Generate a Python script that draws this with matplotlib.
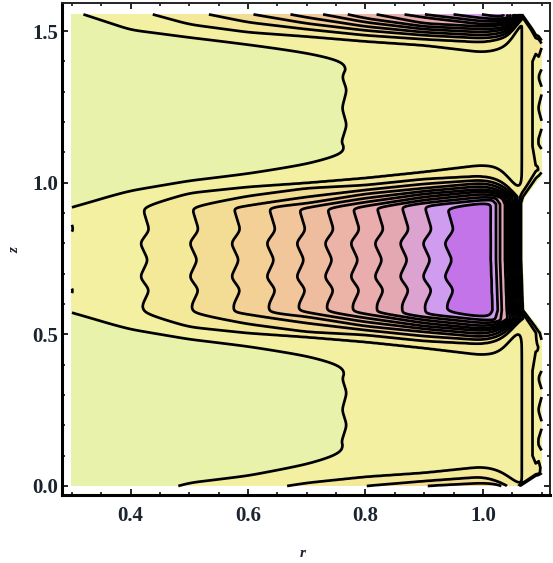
import numpy as np
import matplotlib
matplotlib.use("Agg")
import matplotlib.pyplot as plt
from matplotlib.ticker import MultipleLocator

# contour levels and the band colours between them
levels = [0.5, 1, 2, 3, 4, 5, 6, 7, 8, 9, 10, 11, 12, 50]
line_levels = [1, 2, 3, 4, 5, 6, 7, 8, 9, 10, 11, 12]
band_colors = ["#e9f2ab", "#f3f0a1", "#f4e899", "#f3dd95", "#f2d096", "#f0c69a", "#eebda0",
               "#ebb4a6", "#e8adac", "#e3a8b2", "#dca2d0", "#d09cf0", "#c274e8"]

# value along the middle of the hot band, z = 0.745
band_r = [0.25, 0.3040, 0.424, 0.508, 0.579, 0.639, 0.690, 0.738, 0.782, 0.823, 0.866, 0.905, 0.942, 1.1]
band_val = [0.65, 1, 2, 3, 4, 5, 6, 7, 8, 9, 10, 11, 12, 13.5]

# value along the quiet lobes, z = 0.25 and z = 1.25
lobe_r = [0.3, 0.773, 1.0, 1.04, 1.0666, 1.09, 1.1]
lobe_val = [0.72, 1, 1.45, 1.7, 2, 2.8, 3.1]

# columns where the contour tables below were read
col_r = [0.3, 0.4, 0.5, 0.6, 0.7, 0.8, 0.9, 1.0, 1.03, 1.05, 1.07]

# half height of each contour around the band centre, levels 1 to 13
band_center = 0.745
band_hw = [
    [.178, .224, .254, .274, .298, .330, .356, .363, .356, .330, .297],
    [.165, .168, .221, .241, .254, .270, .290, .313, .303, .254, .190],
    [.152, .155, .175, .211, .237, .247, .267, .277, .264, .230, .180],
    [.132, .145, .160, .180, .208, .231, .251, .264, .251, .220, .175],
    [.125, .138, .152, .167, .187, .218, .237, .254, .241, .210, .170],
    [.119, .132, .145, .155, .173, .204, .227, .244, .231, .204, .165],
    [.112, .125, .138, .145, .160, .191, .218, .234, .224, .198, .158],
    [.106, .119, .132, .138, .150, .178, .208, .227, .218, .191, .152],
    [.099, .112, .125, .132, .140, .167, .198, .218, .211, .185, .145],
    [.092, .106, .119, .125, .132, .160, .188, .208, .204, .178, .138],
    [.086, .099, .112, .119, .125, .152, .178, .198, .198, .171, .132],
    [.079, .092, .106, .112, .119, .145, .167, .188, .188, .165, .125],
    [.066, .079, .092, .099, .106, .132, .152, .171, .175, .152, .112],
]

# distance of each contour below the top edge, levels 1 to 13
z_top = 1.555
top_d = [
    [-.016, .046, .069, .089, .109, .132, .145, .152, .132, .099, .016],
    [-.066, -.020, .033, .059, .073, .089, .102, .125, .115, .089, .000],
    [-.082, -.066, -.013, .026, .049, .069, .082, .092, .082, .066, -.007],
    [-.099, -.082, -.040, -.003, .030, .053, .069, .079, .073, .056, -.007],
    [-.115, -.099, -.066, -.026, .010, .040, .059, .069, .063, .049, -.010],
    [-.132, -.115, -.082, -.049, -.010, .026, .049, .059, .053, .043, -.010],
    [-.148, -.132, -.099, -.066, -.030, .013, .040, .049, .046, .036, -.013],
    [-.165, -.148, -.115, -.082, -.040, -.007, .030, .040, .036, .030, -.013],
    [-.181, -.165, -.132, -.099, -.056, -.020, .010, .033, .030, .023, -.016],
    [-.198, -.181, -.148, -.115, -.073, -.030, .000, .023, .023, .016, -.016],
    [-.214, -.198, -.165, -.132, -.089, -.040, -.013, .013, .016, .010, -.020],
    [-.231, -.214, -.181, -.148, -.106, -.049, -.023, .000, .010, .003, -.020],
    [-.247, -.231, -.198, -.165, -.122, -.059, -.040, -.010, -.003, -.007, -.023],
]

# distance of each contour above the bottom edge, levels 1 to 5
bot_d = [
    [-.099, -.049, .003, .023, .053, .092, .106, .109, .092, .066, .016],
    [-.165, -.115, -.059, -.020, .010, .030, .043, .063, .049, .020, -.016],
    [-.231, -.181, -.115, -.066, -.026, .000, .016, .030, .013, -.010, -.033],
    [-.297, -.247, -.181, -.132, -.082, -.040, .000, .010, .005, -.016, -.046],
    [-.330, -.297, -.231, -.181, -.132, -.082, -.033, -.010, -.010, -.030, -.059],
]

# sideways wiggle of the contours with z
ripple_z = [0.0, 0.092, 0.142, 0.201, 0.251, 0.307, 0.356, 0.409, 0.50, 0.597, 0.646, 0.689, 0.745,
            0.801, 0.844, 0.920, 1.0, 1.091, 1.131, 1.190, 1.246, 1.306, 1.349, 1.405, 1.555]
ripple_dr = [0.0, .0075, -.0075, .0020, -.0060, .0020, -.0060, .0075, 0.0, -.004, .0080, -.0080, .0056,
             -.0080, .0080, -.004, 0.0, .0075, -.0075, .0020, -.0060, .0020, -.0060, .0075, 0.0]

# right hand wall: where the value drops out of range, and how wide the drop is
wall_z = [0.0, .043, .06, .458, .505, .58, .745, .933, .953, 1.042, 1.454, 1.504, 1.555]
wall_r = [1.063, 1.097, 1.1, 1.1, 1.097, 1.068, 1.0650, 1.0650, 1.068, 1.1, 1.1, 1.085, 1.0666]
spread_z = [0.0, .043, .10, .38, .46, .58, .93, 1.04, 1.12, 1.40, 1.454, 1.555]
spread_val = [.6, 1, 4.5, 4.5, 2.5, 1, 1, 2.5, 4.5, 4.5, 1, .6]
wall_off = [-.004, 0, .0034, .0068, .0102, .0136, .017, .0204, .0238, .0272, .0358, .0426, .0511, .1022, .5]
wall_val = [0.2, 1, 2, 3, 4, 5, 6, 7, 8, 9, 10, 11, 12, 13, 40]

xticks_major = 0.2
xticks_minor = 0.05
yticks_major = 0.5
yticks_minor = 0.1


def softmax(a, b, k=5.0):
    return np.logaddexp(k * a, k * b) / k


def softmin(a, b, k=5.0):
    return -softmax(-a, -b, k)


def smooth(y, n):
    w = np.hanning(n)
    w = w / w.sum()
    pad = np.pad(y, n // 2, mode="edge")
    return np.convolve(pad, w, mode="valid")


def edge_field(table, dist, r_grid, top_value):
    # value at a distance from an edge, going through the contour table column by column
    table = np.array(table)
    n = len(table)
    rows = np.array([smooth(np.interp(r_grid, col_r, table[i]), 61) for i in range(n)])
    out = np.zeros((len(dist), len(r_grid)))
    for j in range(len(r_grid)):
        xs = np.concatenate(([-1.0], rows[::-1, j], [rows[0, j] + 0.06]))
        ys = np.concatenate(([top_value], np.arange(n, 0, -1), [0.0]))
        out[:, j] = np.interp(dist, xs, ys)
    return out


r = np.linspace(0.3, 1.1, 801)
z = np.linspace(0.0, z_top, 701)
R, Z = np.meshgrid(r, z)

ripple = smooth(np.interp(z, ripple_z, ripple_dr), 21)[:, None]

band = np.interp(R - ripple, band_r, band_val)
# the lobes only wiggle near r = 0.77, the lines further right run straight
lobe = np.interp(R - ripple * (1 - np.clip((R - 0.85) / 0.1, 0, 1)), lobe_r, lobe_val)
E = edge_field(band_hw, np.abs(z - band_center), r, 20.0)
T = edge_field(top_d, z_top - z, r, 20.0)
B = edge_field(bot_d, z, r, 8.0)

field = softmin(band, E, 3.5)
field = softmax(field, lobe)
field = softmax(field, T)
field = softmax(field, B)

# the wiggle only reaches the wall line right at the edge of the domain
fade = np.clip((R - 1.09) / 0.005, 0, 1)
rw = np.interp(z, wall_z, wall_r)[:, None]
spread = np.interp(z, spread_z, spread_val)[:, None]
wall = np.interp((rw - R + ripple * fade) / spread, wall_off, wall_val)
field = softmin(field, wall)

plt.rcParams["font.family"] = ["Liberation Serif", "DejaVu Serif"]
fig = plt.figure(figsize=(5.53, 5.63), dpi=100)
ax = fig.add_axes([62 / 553, 1 - 495 / 563, 487.5 / 553, 492 / 563])

ax.contourf(R, Z, field, levels=levels, colors=band_colors)
ax.contour(R, Z, field, levels=line_levels, colors="black", linewidths=1.95)

ax.set_xlim(0.283, 1.1135)
ax.set_ylim(-0.0297, 1.5925)
ax.xaxis.set_major_locator(MultipleLocator(xticks_major))
ax.xaxis.set_minor_locator(MultipleLocator(xticks_minor))
ax.yaxis.set_major_locator(MultipleLocator(yticks_major))
ax.yaxis.set_minor_locator(MultipleLocator(yticks_minor))
ax.tick_params(which="major", direction="in", top=True, right=True, length=4, width=1.2, labelsize=15, pad=2.5)
ax.tick_params(which="minor", direction="in", top=True, right=True, length=2, width=1.1)
ax.tick_params(axis="x", which="major", pad=8)
for t in ax.get_xticklabels() + ax.get_yticklabels():
    t.set_fontweight("bold")
    t.set_color("#1c2430")
for side in ["left", "bottom"]:
    ax.spines[side].set_linewidth(2.2)
for side in ["top", "right"]:
    ax.spines[side].set_linewidth(1.4)
    ax.spines[side].set_color("#222222")

ax.set_xlabel("r", fontsize=11, style="italic", fontweight="bold", color="#1c2430", va="center")
ax.set_ylabel("z", fontsize=11, style="italic", fontweight="bold", color="#1c2430", va="center")
ax.xaxis.set_label_coords(0.494, -0.118)
ax.yaxis.set_label_coords(-0.096, 0.498)

fig.savefig("out.png", dpi=100)
